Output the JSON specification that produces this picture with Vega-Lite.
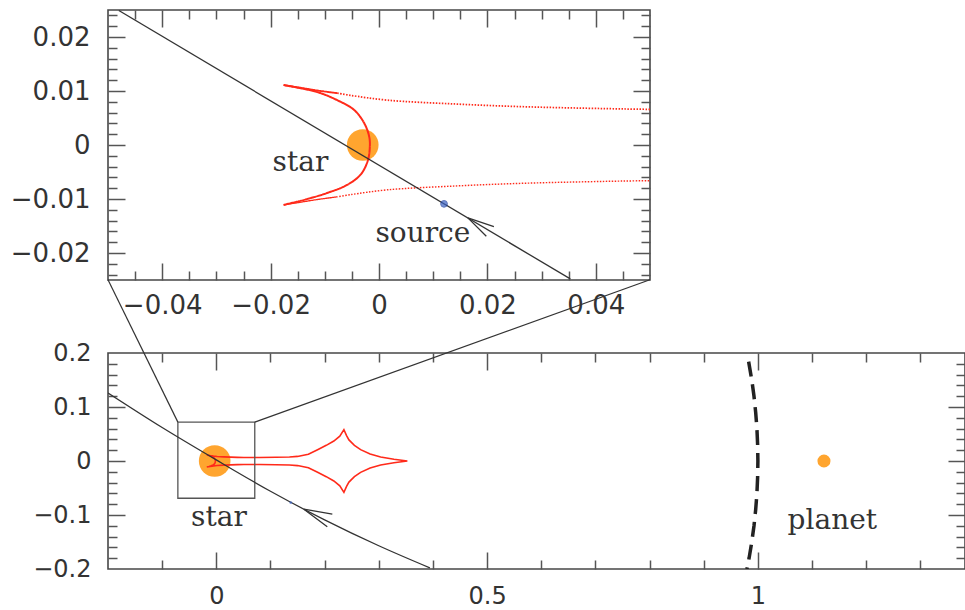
{
  "$schema": "https://vega.github.io/schema/vega-lite/v6.json",
  "padding": {"left": 9, "top": 8, "right": 0, "bottom": 0},
  "background": "white",
  "config": {
    "view": {"stroke": "#474747", "strokeWidth": 1.6},
    "axis": {"domain": false, "grid": false, "tickColor": "#555", "tickWidth": 1.5, "labelColor": "#333", "labelFont": "DejaVu Sans", "labelFlush": false, "labelOverlap": false, "labelBound": false}
  },
  "datasets": {
    "caustic": [
      {"part": "inner", "o": 1, "x": -0.0176, "y": -0.0111},
      {"part": "inner", "o": 2, "x": -0.0136, "y": -0.0101},
      {"part": "inner", "o": 3, "x": -0.0096, "y": -0.0089},
      {"part": "inner", "o": 4, "x": -0.0059, "y": -0.0074},
      {"part": "inner", "o": 5, "x": -0.0034, "y": -0.0055},
      {"part": "inner", "o": 6, "x": -0.0021, "y": -0.0030},
      {"part": "inner", "o": 7, "x": -0.0017, "y": -0.0005},
      {"part": "inner", "o": 8, "x": -0.0018, "y": 0.0015},
      {"part": "inner", "o": 9, "x": -0.0027, "y": 0.0040},
      {"part": "inner", "o": 10, "x": -0.0046, "y": 0.0065},
      {"part": "inner", "o": 11, "x": -0.0077, "y": 0.0083},
      {"part": "inner", "o": 12, "x": -0.0114, "y": 0.0098},
      {"part": "inner", "o": 13, "x": -0.0176, "y": 0.0111},
      {"part": "armU1", "o": 16, "x": -0.0176, "y": 0.0111},
      {"part": "armU1", "o": 17, "x": -0.0145, "y": 0.0106},
      {"part": "armU1", "o": 18, "x": -0.0114, "y": 0.0101},
      {"part": "armU1", "o": 19, "x": -0.0077, "y": 0.0096},
      {"part": "armU2", "o": 20, "x": -0.0077, "y": 0.0096},
      {"part": "armU2", "o": 21, "x": -0.0053, "y": 0.0092},
      {"part": "armU2", "o": 22, "x": 0.0016, "y": 0.0083},
      {"part": "armU2", "o": 23, "x": 0.0139, "y": 0.0076},
      {"part": "armU2", "o": 24, "x": 0.0263, "y": 0.0071},
      {"part": "armU2", "o": 25, "x": 0.0387, "y": 0.0068},
      {"part": "armU2", "o": 26, "x": 0.051, "y": 0.0066},
      {"part": "armU2", "o": 27, "x": 0.08, "y": 0.0066},
      {"part": "armU2", "o": 28, "x": 0.11, "y": 0.0069},
      {"part": "armU2", "o": 29, "x": 0.135, "y": 0.0075},
      {"part": "armU2", "o": 30, "x": 0.15, "y": 0.0085},
      {"part": "astro", "o": 31, "x": 0.15, "y": 0.0085},
      {"part": "astro", "o": 32, "x": 0.17, "y": 0.0125},
      {"part": "astro", "o": 33, "x": 0.187, "y": 0.021},
      {"part": "astro", "o": 34, "x": 0.203, "y": 0.029},
      {"part": "astro", "o": 35, "x": 0.217, "y": 0.037},
      {"part": "astro", "o": 36, "x": 0.228, "y": 0.046},
      {"part": "astro", "o": 37, "x": 0.2356, "y": 0.058},
      {"part": "astro", "o": 38, "x": 0.2405, "y": 0.047},
      {"part": "astro", "o": 39, "x": 0.2449, "y": 0.039},
      {"part": "astro", "o": 40, "x": 0.255, "y": 0.029},
      {"part": "astro", "o": 41, "x": 0.2664, "y": 0.021},
      {"part": "astro", "o": 42, "x": 0.284, "y": 0.013},
      {"part": "astro", "o": 43, "x": 0.3034, "y": 0.0074},
      {"part": "astro", "o": 44, "x": 0.328, "y": 0.0032},
      {"part": "astro", "o": 45, "x": 0.3527, "y": 0},
      {"part": "astro", "o": 46, "x": 0.328, "y": -0.0032},
      {"part": "astro", "o": 47, "x": 0.3034, "y": -0.0074},
      {"part": "astro", "o": 48, "x": 0.284, "y": -0.013},
      {"part": "astro", "o": 49, "x": 0.2664, "y": -0.021},
      {"part": "astro", "o": 50, "x": 0.255, "y": -0.029},
      {"part": "astro", "o": 51, "x": 0.2449, "y": -0.039},
      {"part": "astro", "o": 52, "x": 0.2405, "y": -0.047},
      {"part": "astro", "o": 53, "x": 0.2356, "y": -0.058},
      {"part": "astro", "o": 54, "x": 0.228, "y": -0.046},
      {"part": "astro", "o": 55, "x": 0.217, "y": -0.037},
      {"part": "astro", "o": 56, "x": 0.203, "y": -0.029},
      {"part": "astro", "o": 57, "x": 0.187, "y": -0.021},
      {"part": "astro", "o": 58, "x": 0.17, "y": -0.0125},
      {"part": "astro", "o": 59, "x": 0.15, "y": -0.0085},
      {"part": "armL2", "o": 60, "x": 0.15, "y": -0.0085},
      {"part": "armL2", "o": 61, "x": 0.135, "y": -0.0075},
      {"part": "armL2", "o": 62, "x": 0.11, "y": -0.0069},
      {"part": "armL2", "o": 63, "x": 0.08, "y": -0.0066},
      {"part": "armL2", "o": 64, "x": 0.051, "y": -0.0066},
      {"part": "armL2", "o": 65, "x": 0.0387, "y": -0.0068},
      {"part": "armL2", "o": 66, "x": 0.0263, "y": -0.0071},
      {"part": "armL2", "o": 67, "x": 0.0139, "y": -0.0076},
      {"part": "armL2", "o": 68, "x": 0.0016, "y": -0.0083},
      {"part": "armL2", "o": 69, "x": -0.0053, "y": -0.0092},
      {"part": "armL2", "o": 70, "x": -0.0077, "y": -0.0096},
      {"part": "armL1", "o": 71, "x": -0.0077, "y": -0.0096},
      {"part": "armL1", "o": 72, "x": -0.0114, "y": -0.0101},
      {"part": "armL1", "o": 73, "x": -0.0145, "y": -0.0106},
      {"part": "armL1", "o": 74, "x": -0.0176, "y": -0.0111}
    ],
    "star": [{"x": -0.003, "y": 0}],
    "trajTop": [{"o": 1, "x": -0.048, "y": 0.0249}, {"o": 2, "x": 0.0353, "y": -0.0248}],
    "arrowTop": [{"o": 1, "x": 0.0212, "y": -0.0151}, {"o": 2, "x": 0.0164, "y": -0.0135}, {"o": 3, "x": 0.0198, "y": -0.0169}],
    "sourceTop": [{"x": 0.012, "y": -0.0109}],
    "labelsTop": [{"text": "star", "x": -0.0145, "y": -0.0049}, {"text": "source", "x": 0.0081, "y": -0.018}],
    "box": [{"x": -0.071, "x2": 0.071, "y": 0.072, "y2": -0.069}],
    "links": [{"x": -0.071, "y": 0.072, "x2": -0.2, "y2": 0.3357}, {"x": 0.071, "y": 0.072, "x2": 0.8006, "y2": 0.3357}],
    "trajBottom": [
      {"o": 1, "x": -0.2, "y": 0.126},
      {"o": 2, "x": -0.1, "y": 0.062},
      {"o": 3, "x": 0, "y": 0.002},
      {"o": 4, "x": 0.1, "y": -0.056},
      {"o": 5, "x": 0.2, "y": -0.109},
      {"o": 6, "x": 0.3, "y": -0.157},
      {"o": 7, "x": 0.3944, "y": -0.198}
    ],
    "arrowBottom": [{"o": 1, "x": 0.2142, "y": -0.0985}, {"o": 2, "x": 0.1617, "y": -0.0892}, {"o": 3, "x": 0.2049, "y": -0.1218}],
    "sourceBottom": [{"x": 0.1375, "y": -0.077}],
    "planet": [{"x": 1.122, "y": 0}],
    "ring": [
      {"o": 1, "x": 0.9829, "y": 0.184},
      {"o": 2, "x": 0.9887, "y": 0.15},
      {"o": 3, "x": 0.9928, "y": 0.12},
      {"o": 4, "x": 0.9959, "y": 0.09},
      {"o": 5, "x": 0.9982, "y": 0.06},
      {"o": 6, "x": 0.9995, "y": 0.03},
      {"o": 7, "x": 1.0, "y": 0},
      {"o": 8, "x": 0.9995, "y": -0.03},
      {"o": 9, "x": 0.9982, "y": -0.06},
      {"o": 10, "x": 0.9959, "y": -0.09},
      {"o": 11, "x": 0.9928, "y": -0.12},
      {"o": 12, "x": 0.9887, "y": -0.15},
      {"o": 13, "x": 0.9837, "y": -0.18},
      {"o": 14, "x": 0.9798, "y": -0.2}
    ],
    "labelsBottom": [{"text": "star", "x": 0.0048, "y": -0.121}, {"text": "planet", "x": 1.1374, "y": -0.126}]
  },
  "vconcat": [
    {
      "width": 542,
      "height": 270,
      "resolve": {"axis": {"x": "independent", "y": "independent"}},
      "layer": [
        {
          "data": {"name": "star"},
          "mark": {"type": "point", "filled": true, "size": 1000, "color": "#ffa024", "opacity": 0.95},
          "encoding": {
            "x": {"field": "x", "type": "quantitative", "scale": {"domain": [-0.05, 0.05], "nice": false, "zero": false},
                  "axis": {"orient": "bottom", "values": [-0.04, -0.02, 0, 0.02, 0.04], "format": "~g", "ticks": false, "labelPadding": 12, "labelFontSize": 26, "title": null}},
            "y": {"field": "y", "type": "quantitative", "scale": {"domain": [-0.025, 0.025], "nice": false, "zero": false},
                  "axis": {"orient": "left", "values": [-0.02, -0.01, 0, 0.01, 0.02], "format": "~g", "ticks": false, "labelPadding": 18, "labelFontSize": 26, "title": null}}
          }
        },
        {
          "data": {"name": "caustic"},
          "mark": {"type": "line", "color": "#ff2a1a", "clip": true, "interpolate": "catmull-rom"},
          "encoding": {
            "x": {"field": "x", "type": "quantitative", "scale": {"domain": [-0.05, 0.05], "nice": false, "zero": false},
                  "axis": {"orient": "bottom", "values": [-0.04, -0.02, 0, 0.02, 0.04], "labels": false, "tickSize": -17, "title": null}},
            "y": {"field": "y", "type": "quantitative", "scale": {"domain": [-0.025, 0.025], "nice": false, "zero": false},
                  "axis": {"orient": "left", "values": [-0.02, -0.01, 0, 0.01, 0.02], "labels": false, "tickSize": -17, "title": null}},
            "order": {"field": "o", "type": "quantitative"},
            "detail": {"field": "part", "type": "nominal"},
            "strokeDash": {"field": "part", "type": "nominal", "legend": null,
                           "scale": {"domain": ["inner", "armU1", "armU2", "astro", "armL2", "armL1"], "range": [[1, 0], [1, 0], [1.5, 1.5], [1, 0], [1.5, 1.5], [1, 0]]}},
            "strokeWidth": {"field": "part", "type": "nominal", "legend": null,
                            "scale": {"domain": ["inner", "armU1", "armU2", "astro", "armL2", "armL1"], "range": [2, 1.3, 1.4, 1.3, 1.4, 1.3]}}
          }
        },
        {
          "data": {"name": "trajTop"},
          "mark": {"type": "line", "color": "#333", "strokeWidth": 1.3, "clip": true},
          "encoding": {
            "x": {"field": "x", "type": "quantitative", "scale": {"domain": [-0.05, 0.05], "nice": false, "zero": false},
                  "axis": {"orient": "bottom", "values": [-0.045, -0.035, -0.03, -0.025, -0.015, -0.01, -0.005, 0.005, 0.01, 0.015, 0.025, 0.03, 0.035, 0.045], "labels": false, "tickSize": -9, "title": null}},
            "y": {"field": "y", "type": "quantitative", "scale": {"domain": [-0.025, 0.025], "nice": false, "zero": false},
                  "axis": {"orient": "left", "values": [-0.024, -0.022, -0.018, -0.016, -0.014, -0.012, -0.008, -0.006, -0.004, -0.002, 0.002, 0.004, 0.006, 0.008, 0.012, 0.014, 0.016, 0.018, 0.022, 0.024], "labels": false, "tickSize": -9, "title": null}},
            "order": {"field": "o", "type": "quantitative"}
          }
        },
        {
          "data": {"name": "arrowTop"},
          "mark": {"type": "line", "color": "#333", "strokeWidth": 1.3},
          "encoding": {
            "x": {"field": "x", "type": "quantitative", "scale": {"domain": [-0.05, 0.05], "nice": false, "zero": false},
                  "axis": {"orient": "top", "values": [-0.04, -0.02, 0, 0.02, 0.04], "labels": false, "tickSize": -17, "title": null}},
            "y": {"field": "y", "type": "quantitative", "scale": {"domain": [-0.025, 0.025], "nice": false, "zero": false},
                  "axis": {"orient": "right", "values": [-0.02, -0.01, 0, 0.01, 0.02], "labels": false, "tickSize": -17, "title": null}},
            "order": {"field": "o", "type": "quantitative"}
          }
        },
        {
          "data": {"name": "sourceTop"},
          "mark": {"type": "point", "filled": true, "size": 45, "color": "#3a62c4", "stroke": "#1f3f9f", "strokeWidth": 1},
          "encoding": {
            "x": {"field": "x", "type": "quantitative", "scale": {"domain": [-0.05, 0.05], "nice": false, "zero": false},
                  "axis": {"orient": "top", "values": [-0.045, -0.035, -0.03, -0.025, -0.015, -0.01, -0.005, 0.005, 0.01, 0.015, 0.025, 0.03, 0.035, 0.045], "labels": false, "tickSize": -9, "title": null}},
            "y": {"field": "y", "type": "quantitative", "scale": {"domain": [-0.025, 0.025], "nice": false, "zero": false},
                  "axis": {"orient": "right", "values": [-0.024, -0.022, -0.018, -0.016, -0.014, -0.012, -0.008, -0.006, -0.004, -0.002, 0.002, 0.004, 0.006, 0.008, 0.012, 0.014, 0.016, 0.018, 0.022, 0.024], "labels": false, "tickSize": -9, "title": null}}
          }
        },
        {
          "data": {"name": "labelsTop"},
          "mark": {"type": "text", "font": "DejaVu Serif", "fontSize": 28, "color": "#333", "align": "center", "baseline": "alphabetic"},
          "encoding": {
            "x": {"field": "x", "type": "quantitative", "scale": {"domain": [-0.05, 0.05], "nice": false, "zero": false}, "axis": null},
            "y": {"field": "y", "type": "quantitative", "scale": {"domain": [-0.025, 0.025], "nice": false, "zero": false}, "axis": null},
            "text": {"field": "text", "type": "nominal"}
          }
        }
      ]
    },
    {
      "width": 857,
      "height": 216,
      "resolve": {"axis": {"x": "independent", "y": "independent"}},
      "layer": [
        {
          "data": {"name": "star"},
          "mark": {"type": "point", "filled": true, "size": 1000, "color": "#ffa024", "opacity": 0.95},
          "encoding": {
            "x": {"field": "x", "type": "quantitative", "scale": {"domain": [-0.2, 1.3824], "nice": false, "zero": false},
                  "axis": {"orient": "bottom", "values": [0, 0.5, 1], "format": "~g", "ticks": false, "labelPadding": 15, "labelFontSize": 24, "title": null}},
            "y": {"field": "y", "type": "quantitative", "scale": {"domain": [-0.2, 0.2], "nice": false, "zero": false},
                  "axis": {"orient": "left", "values": [-0.2, -0.1, 0, 0.1, 0.2], "format": "~g", "ticks": false, "labelPadding": 17, "labelFontSize": 24, "title": null}}
          }
        },
        {
          "data": {"name": "caustic"},
          "mark": {"type": "line", "color": "#ff2a1a", "strokeWidth": 1.6, "clip": true},
          "encoding": {
            "x": {"field": "x", "type": "quantitative", "scale": {"domain": [-0.2, 1.3824], "nice": false, "zero": false},
                  "axis": {"orient": "bottom", "values": [0, 0.5, 1], "labels": false, "tickSize": -17, "title": null}},
            "y": {"field": "y", "type": "quantitative", "scale": {"domain": [-0.2, 0.2], "nice": false, "zero": false},
                  "axis": {"orient": "left", "values": [-0.1, 0, 0.1], "labels": false, "tickSize": -17, "title": null}},
            "order": {"field": "o", "type": "quantitative"}
          }
        },
        {
          "data": {"name": "ring"},
          "mark": {"type": "line", "color": "#222", "strokeWidth": 3.5, "strokeDash": [15, 8], "clip": true},
          "encoding": {
            "x": {"field": "x", "type": "quantitative", "scale": {"domain": [-0.2, 1.3824], "nice": false, "zero": false},
                  "axis": {"orient": "bottom", "values": [-0.1, 0.1, 0.2, 0.3, 0.4, 0.6, 0.7, 0.8, 0.9, 1.1, 1.2, 1.3], "labels": false, "tickSize": -9, "title": null}},
            "y": {"field": "y", "type": "quantitative", "scale": {"domain": [-0.2, 0.2], "nice": false, "zero": false},
                  "axis": {"orient": "left", "values": [-0.18, -0.16, -0.14, -0.12, -0.08, -0.06, -0.04, -0.02, 0.02, 0.04, 0.06, 0.08, 0.12, 0.14, 0.16, 0.18], "labels": false, "tickSize": -9, "title": null}},
            "order": {"field": "o", "type": "quantitative"}
          }
        },
        {
          "data": {"name": "box"},
          "mark": {"type": "rect", "fillOpacity": 0, "stroke": "#555", "strokeWidth": 1.3},
          "encoding": {
            "x": {"field": "x", "type": "quantitative", "scale": {"domain": [-0.2, 1.3824], "nice": false, "zero": false}, "axis": null},
            "x2": {"field": "x2"},
            "y": {"field": "y", "type": "quantitative", "scale": {"domain": [-0.2, 0.2], "nice": false, "zero": false}, "axis": null},
            "y2": {"field": "y2"}
          }
        },
        {
          "data": {"name": "links"},
          "mark": {"type": "rule", "color": "#333", "strokeWidth": 1.2, "clip": false},
          "encoding": {
            "x": {"field": "x", "type": "quantitative", "scale": {"domain": [-0.2, 1.3824], "nice": false, "zero": false}, "axis": null},
            "x2": {"field": "x2"},
            "y": {"field": "y", "type": "quantitative", "scale": {"domain": [-0.2, 0.2], "nice": false, "zero": false}, "axis": null},
            "y2": {"field": "y2"}
          }
        },
        {
          "data": {"name": "trajBottom"},
          "mark": {"type": "line", "color": "#333", "strokeWidth": 1.3, "clip": true, "interpolate": "monotone"},
          "encoding": {
            "x": {"field": "x", "type": "quantitative", "scale": {"domain": [-0.2, 1.3824], "nice": false, "zero": false},
                  "axis": {"orient": "top", "values": [0, 0.5, 1], "labels": false, "tickSize": -17, "title": null}},
            "y": {"field": "y", "type": "quantitative", "scale": {"domain": [-0.2, 0.2], "nice": false, "zero": false},
                  "axis": {"orient": "right", "values": [-0.1, 0, 0.1], "labels": false, "tickSize": -17, "title": null}},
            "order": {"field": "o", "type": "quantitative"}
          }
        },
        {
          "data": {"name": "arrowBottom"},
          "mark": {"type": "line", "color": "#333", "strokeWidth": 1.3},
          "encoding": {
            "x": {"field": "x", "type": "quantitative", "scale": {"domain": [-0.2, 1.3824], "nice": false, "zero": false},
                  "axis": {"orient": "top", "values": [-0.1, 0.1, 0.2, 0.3, 0.4, 0.6, 0.7, 0.8, 0.9, 1.1, 1.2, 1.3], "labels": false, "tickSize": -9, "title": null}},
            "y": {"field": "y", "type": "quantitative", "scale": {"domain": [-0.2, 0.2], "nice": false, "zero": false},
                  "axis": {"orient": "right", "values": [-0.18, -0.16, -0.14, -0.12, -0.08, -0.06, -0.04, -0.02, 0.02, 0.04, 0.06, 0.08, 0.12, 0.14, 0.16, 0.18], "labels": false, "tickSize": -9, "title": null}},
            "order": {"field": "o", "type": "quantitative"}
          }
        },
        {
          "data": {"name": "sourceBottom"},
          "mark": {"type": "point", "filled": true, "size": 8, "color": "#3a62c4"},
          "encoding": {
            "x": {"field": "x", "type": "quantitative", "scale": {"domain": [-0.2, 1.3824], "nice": false, "zero": false}, "axis": null},
            "y": {"field": "y", "type": "quantitative", "scale": {"domain": [-0.2, 0.2], "nice": false, "zero": false}, "axis": null}
          }
        },
        {
          "data": {"name": "planet"},
          "mark": {"type": "point", "filled": true, "size": 170, "color": "#ffa024", "opacity": 0.95},
          "encoding": {
            "x": {"field": "x", "type": "quantitative", "scale": {"domain": [-0.2, 1.3824], "nice": false, "zero": false}, "axis": null},
            "y": {"field": "y", "type": "quantitative", "scale": {"domain": [-0.2, 0.2], "nice": false, "zero": false}, "axis": null}
          }
        },
        {
          "data": {"name": "labelsBottom"},
          "mark": {"type": "text", "font": "DejaVu Serif", "fontSize": 28, "color": "#333", "align": "center", "baseline": "alphabetic"},
          "encoding": {
            "x": {"field": "x", "type": "quantitative", "scale": {"domain": [-0.2, 1.3824], "nice": false, "zero": false}, "axis": null},
            "y": {"field": "y", "type": "quantitative", "scale": {"domain": [-0.2, 0.2], "nice": false, "zero": false}, "axis": null},
            "text": {"field": "text", "type": "nominal"}
          }
        }
      ]
    }
  ],
  "spacing": 73,
  "bounds": "flush"
}
